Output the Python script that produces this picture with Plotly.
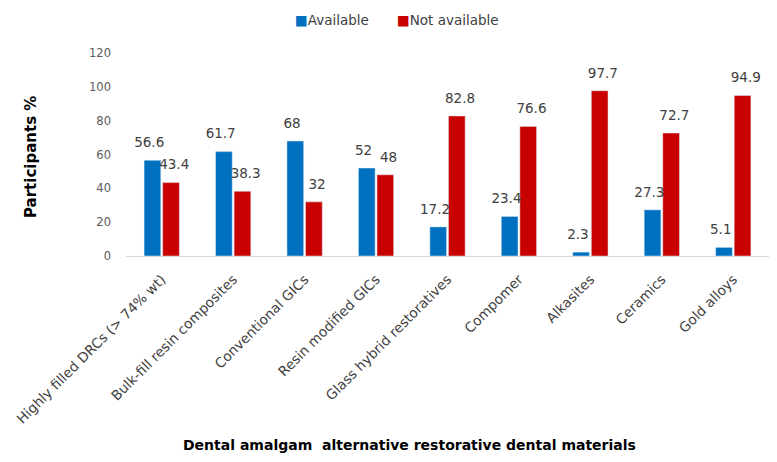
import plotly.graph_objects as go

categories = ["Highly filled DRCs (> 74% wt)", "Bulk-fill resin composites", "Conventional GICs",
              "Resin modified GICs", "Glass hybrid restoratives", "Compomer", "Alkasites",
              "Ceramics", "Gold alloys"]
available = [56.6, 61.7, 68, 52, 17.2, 23.4, 2.3, 27.3, 5.1]
not_available = [43.4, 38.3, 32, 48, 82.8, 76.6, 97.7, 72.7, 94.9]
y_ticks = [0, 20, 40, 60, 80, 100, 120]
series_names = ["Available", "Not available"]
series_colors = ["#0070C0", "#C80000"]

W, H = 777, 462
L, R, T, B = 126, 8, 53, 206
pw = W - L - R
ph = H - T - B

def px_x(x):
    return (x - L) / pw

def px_y(y):
    return (H - B - y) / ph

fig = go.Figure()
for name, vals, col in zip(series_names, [available, not_available], series_colors):
    fig.add_trace(go.Bar(name=name, x=categories, y=vals, marker_color=col,
                         offsetgroup=name, showlegend=False))
for name, vals in zip(series_names, [available, not_available]):
    fig.add_trace(go.Scatter(x=categories, y=vals, mode="markers+text", offsetgroup=name,
                             marker=dict(size=14, opacity=0), text=[f"{v:g}" for v in vals],
                             textposition="top center", cliponaxis=False, hoverinfo="skip",
                             textfont=dict(family="DejaVu Sans", size=13.5, color="#404040"),
                             showlegend=False))

fig.update_layout(
    width=W, height=H,
    margin=dict(l=L, r=R, t=T, b=B, autoexpand=False),
    paper_bgcolor="white", plot_bgcolor="white",
    barmode="group", bargap=0.48, bargroupgap=0.1,
    scattermode="group", scattergap=0.3,
    font=dict(family="DejaVu Sans", size=12, color="#404040"),
    xaxis=dict(tickangle=-45, showline=True, linecolor="#D9D9D9", linewidth=1,
               showgrid=False, ticks="", ticklabelstandoff=9,
               tickfont=dict(family="DejaVu Sans", size=13.7, color="#404040")),
    yaxis=dict(range=[0, 120], tickvals=y_ticks, showgrid=False, showline=False, zeroline=False,
               ticks="", ticklabelstandoff=14,
               tickfont=dict(family="DejaVu Sans", size=11.5, color="#595959")),
)

# legend drawn as text items
legend_x = [293, 395]
for name, col, lx in zip(series_names, series_colors, legend_x):
    fig.add_annotation(text=f"<span style='color:{col}'>■</span>{name}", xref="paper", yref="paper",
                       x=px_x(lx), y=px_y(20), xanchor="left", yanchor="middle", showarrow=False,
                       font=dict(family="DejaVu Sans", size=13.5, color="#404040"))

fig.add_annotation(text="<b>Participants %</b>", textangle=-90, xref="paper", yref="paper",
                   x=px_x(31), y=px_y(157), xanchor="center", yanchor="middle",
                   showarrow=False, font=dict(family="DejaVu Sans", size=15, color="black"))
fig.add_annotation(text="<b>Dental amalgam  alternative restorative dental materials</b>",
                   xref="paper", yref="paper",
                   x=px_x(409), y=px_y(445), xanchor="center", yanchor="middle",
                   showarrow=False, font=dict(family="DejaVu Sans", size=14, color="black"))

fig.write_html("out.html")
